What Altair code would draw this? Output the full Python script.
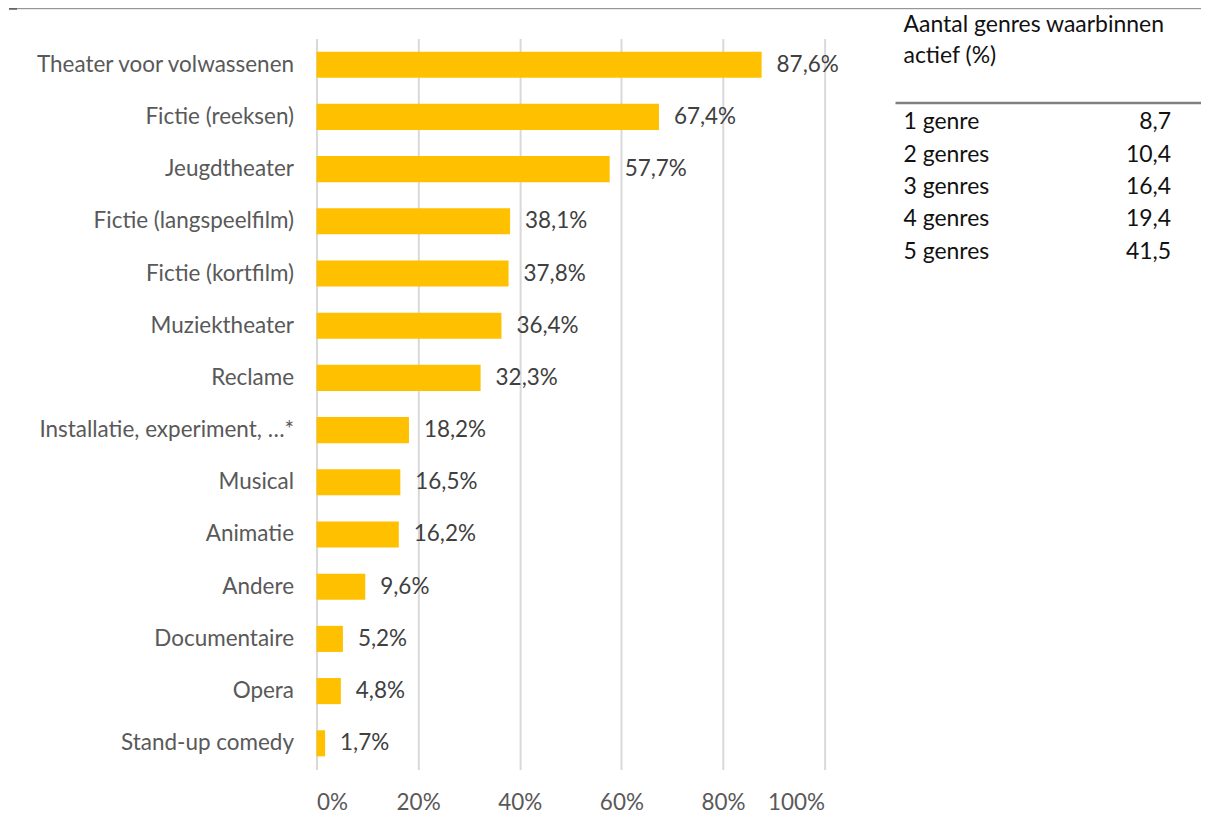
import altair as alt
import pandas as pd

categories = [
    "Theater voor volwassenen", "Fictie (reeksen)", "Jeugdtheater",
    "Fictie (langspeelfilm)", "Fictie (kortfilm)", "Muziektheater", "Reclame",
    "Installatie, experiment, …*", "Musical", "Animatie", "Andere",
    "Documentaire", "Opera", "Stand-up comedy",
]
values = [87.6, 67.4, 57.7, 38.1, 37.8, 36.4, 32.3, 18.2, 16.5, 16.2, 9.6, 5.2, 4.8, 1.7]

table_title = ["Aantal genres waarbinnen", "actief (%)"]
genre_labels = ["1 genre", "2 genres", "3 genres", "4 genres", "5 genres"]
genre_values = [8.7, 10.4, 16.4, 19.4, 41.5]

FONT = "Lato"
FS = 23
FS_AX = 22.5

bars_df = pd.DataFrame({
    "cat": categories,
    "val": [v / 100 for v in values],
    "lab": [f"{v:.1f}%".replace(".", ",") for v in values],
})

y_enc = alt.Y("cat:N", sort=categories,
              scale=alt.Scale(paddingInner=0.5, paddingOuter=0.25),
              axis=alt.Axis(title=None, ticks=False, domain=False, grid=False,
                            labelFontSize=FS_AX, labelColor="#595959", labelFont=FONT,
                            labelPadding=23, labelLimit=400,
                            minExtent=309, maxExtent=309))
x_enc = alt.X("val:Q", scale=alt.Scale(domain=[0, 1], nice=False),
              axis=alt.Axis(title=None, values=[0, 0.2, 0.4, 0.6, 0.8, 1.0],
                            format=".0%", ticks=False, domain=False,
                            gridColor="#D9D9D9", gridWidth=2,
                            labelFontSize=FS_AX, labelColor="#595959", labelFont=FONT,
                            labelPadding=22))

base = alt.Chart(bars_df)
bars = base.mark_bar(color="#FFC000").encode(x=x_enc, y=y_enc)
texts = base.mark_text(align="left", baseline="middle", dx=15, fontSize=FS_AX,
                       font=FONT, color="#404040").encode(
    x="val:Q", y=alt.Y("cat:N", sort=categories), text="lab:N")
bar_chart = alt.layer(bars, texts).properties(width=509, height=732)

# table panel
rows = []
for i, t in enumerate(table_title):
    rows.append({"slot": i * 0.96, "col": "label", "txt": t})
for i, (g, v) in enumerate(zip(genre_labels, genre_values)):
    rows.append({"slot": 3 + i, "col": "label", "txt": g})
    rows.append({"slot": 3 + i, "col": "value", "txt": f"{v:.1f}".replace(".", ",")})
tab_df = pd.DataFrame(rows)

ysc = alt.Scale(domain=[0.416, 8.441], reverse=True, nice=False, zero=False)
xsc = alt.Scale(domain=["label", "value"], range=[8, 276], padding=0)

tab_left = alt.Chart(tab_df).transform_filter(alt.datum.col == "label").mark_text(
    align="left", baseline="middle", fontSize=FS, font=FONT, color="#111111").encode(
    x=alt.X("col:N", scale=xsc, axis=None),
    y=alt.Y("slot:Q", scale=ysc, axis=None),
    text="txt:N")
tab_right = alt.Chart(tab_df).transform_filter(alt.datum.col == "value").mark_text(
    align="right", baseline="middle", fontSize=FS, font=FONT, color="#111111").encode(
    x=alt.X("col:N", scale=xsc, axis=None),
    y=alt.Y("slot:Q", scale=ysc, axis=None),
    text="txt:N")

line_df = pd.DataFrame({"slot": [2.41]})
header_rule = alt.Chart(line_df).mark_rule(color="#808080", strokeWidth=2.5).encode(
    y=alt.Y("slot:Q", scale=ysc, axis=None),
    x=alt.value(0), x2=alt.value(306))

top_df = pd.DataFrame({"k": [0]})
top_rule = alt.Chart(top_df).mark_rule(color="#808080", strokeWidth=1).encode(
    x=alt.value(-888), x2=alt.value(306), y=alt.value(-30))
top_tick = alt.Chart(top_df).mark_rule(color="#595959", strokeWidth=1.5).encode(
    x=alt.value(-888), x2=alt.value(-880), y=alt.value(-29.75))

table_chart = alt.layer(top_rule, top_tick, header_rule, tab_left, tab_right).properties(
    width=306, height=260)

chart = alt.hconcat(bar_chart, table_chart, spacing=71, bounds="flush").properties(
    padding={"left": 0, "top": -1, "right": 0, "bottom": 0}
).configure_view(stroke=None)

chart.save("out.html", embed_options={"renderer": "svg", "actions": False})
